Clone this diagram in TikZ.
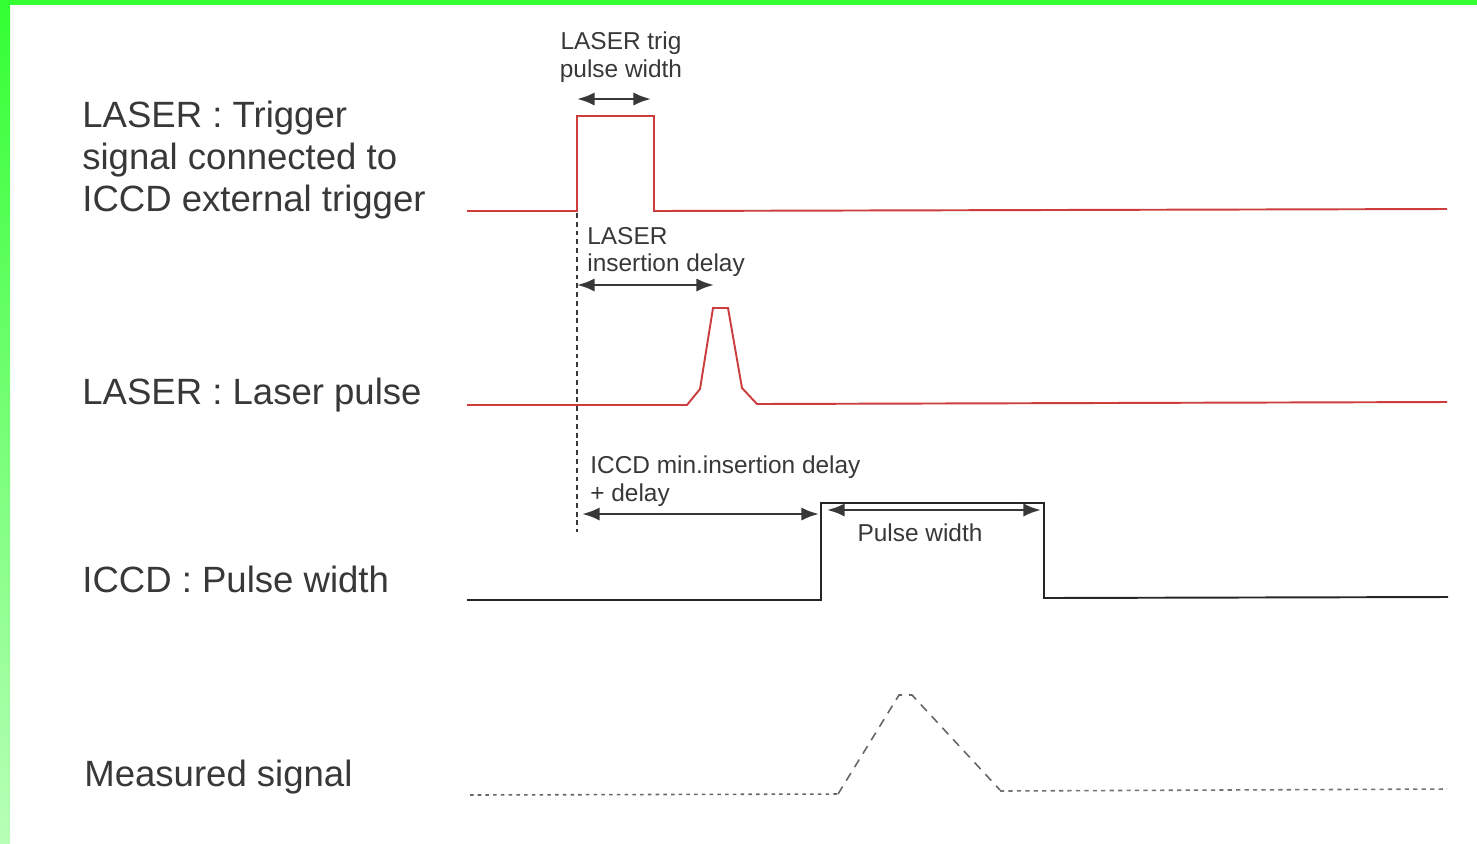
\documentclass[tikz,border=0pt]{standalone}
\usepackage{fontspec}
\setmainfont{Liberation Sans}
\usepackage{xcolor}
\usepackage{tikz}
\usetikzlibrary{arrows.meta, positioning, calc}
\definecolor{TraceRed}{rgb}{0.80, 0.24, 0.24}
\definecolor{InkGrey}{rgb}{0.22, 0.22, 0.22}
\definecolor{FrameGreen}{rgb}{0.20, 1.00, 0.20}

\begin{document}
\begin{tikzpicture}[x=0.02cm, y=-0.02cm, >={Latex[length=10pt, width=7.5pt]},
    trace/.style={line width=1.1pt, line join=miter},
    dim/.style={<->, line width=1.5pt, InkGrey},
    biglabel/.style={anchor=west, align=left, inner sep=0pt, text=InkGrey, font=\fontsize{20.8}{23.9}\selectfont},
    smalllabel/.style={inner sep=0pt, text=InkGrey, font=\fontsize{13.9}{15.9}\selectfont}]
        % Page and green frame
        \fill [white] (0,0) rectangle (1477,843);
        \useasboundingbox (0,0) rectangle (1477,843);
        \shade [top color=FrameGreen, bottom color=FrameGreen!35] (0,0) rectangle (10,843);
        \fill [FrameGreen] (0,0) rectangle (1477,5);
        % Channel names
        \node [biglabel] (trigname) at (82,160) {LASER : Trigger\\signal connected to\\ICCD external trigger};
        \node [biglabel] (pulsename) at (82,395) {LASER : Laser pulse};
        \node [biglabel] (iccdname) at (82,579) {ICCD : Pulse width};
        \node [biglabel] (measname) at (84,777) {Measured signal};
        % Laser trigger signal
        \draw [trace, TraceRed] (467,211) -- (577,211) -- (577,116) -- (654,116) -- (654,211) -- (1447,209);
        % Laser pulse
        \draw [trace, TraceRed] (467,405) -- (687,405) -- (700,389) -- (713,308) -- (728,308)
            -- (742,388) -- (757,404) -- (1447,402);
        % ICCD gate
        \draw [trace, black!85] (467,600) -- (821,600) -- (821,503) -- (1044,503) -- (1044,598) -- (1448,597);
        % Measured signal
        \draw [line width=0.9pt, black!60, dash pattern=on 2pt off 2.4pt] (470,795) -- (838,794);
        \draw [line width=0.9pt, black!60, dash pattern=on 5pt off 4pt] (838,794) -- (899,695) -- (912,695) -- (1000,790);
        \draw [line width=0.9pt, black!55, dash pattern=on 2.4pt off 2.4pt] (1000,791) -- (1447,789);
        % Trigger reference line
        \coordinate (t0top) at (577,213);
        \coordinate (t0bot) at (577,532);
        \draw [line width=1.1pt, InkGrey, dash pattern=on 2.8pt off 2.2pt] (t0top) -- (t0bot);
        % Trigger pulse width
        \coordinate (twL) at (577,99);
        \coordinate (twR) at (651,99);
        \draw [dim] (twL) -- (twR);
        \node [smalllabel, align=center] (twtext) at (621,57) {LASER trig\\pulse width};
        % Laser insertion delay
        \coordinate (ldL) at (577,285);
        \coordinate (ldR) at (714,285);
        \draw [dim] (ldL) -- (ldR);
        \node [smalllabel, align=left, anchor=west] (ldtext) at (587,252) {LASER\\insertion delay};
        % ICCD delay
        \coordinate (idL) at (582,514);
        \coordinate (idR) at (819,514);
        \draw [dim] (idL) -- (idR);
        \node [smalllabel, align=left, anchor=west] (idtext) at (590,481) {ICCD min.insertion delay\\+ delay};
        % ICCD pulse width
        \coordinate (pwL) at (827,510);
        \coordinate (pwR) at (1041,510);
        \draw [dim] (pwL) -- (pwR);
        \node [smalllabel] (pwtext) at (920,533) {Pulse width};
    \end{tikzpicture}
\end{document}
